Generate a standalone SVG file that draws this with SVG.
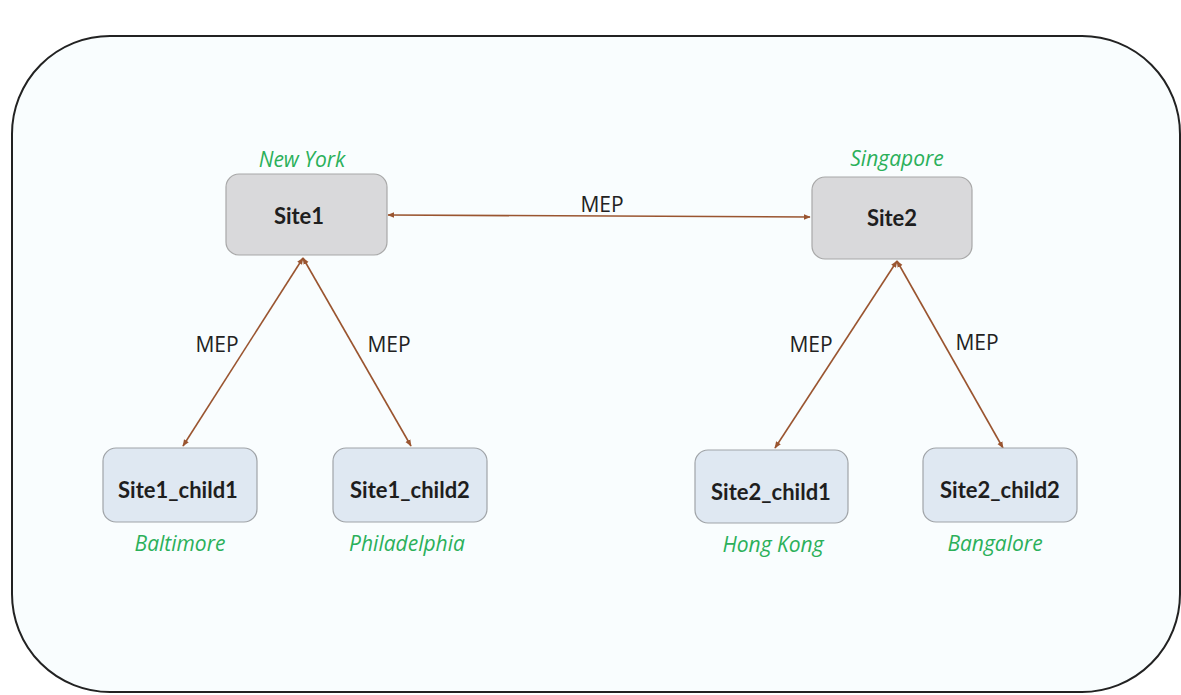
<svg xmlns="http://www.w3.org/2000/svg" width="1181" height="695" viewBox="0 0 1181 695">
<defs>
<marker id="ah" viewBox="0 0 10 10" refX="9" refY="5" markerWidth="7" markerHeight="7" orient="auto-start-reverse" markerUnits="userSpaceOnUse">
<path d="M0,1 L10,5 L0,9 Z" fill="#9a5530"/>
</marker>
<style>
.frame{fill:#f9fdfe;stroke:#222;stroke-width:2}
.site{fill:#d9d9db;stroke:#a8a8a8;stroke-width:1.2}
.child{fill:#dfe8f2;stroke:#a0a4a8;stroke-width:1.2}
.nt{font-family:Lato,"Open Sans",sans-serif;font-weight:bold;font-size:22px;fill:#1e1e1e;text-anchor:middle}
.loc{font-family:"Open Sans","Noto Sans",sans-serif;font-style:italic;font-size:21px;fill:#2bb05a;text-anchor:middle}
.lbl{font-family:"Open Sans","Noto Sans",sans-serif;font-size:21px;fill:#222;text-anchor:middle}
.cn{stroke:#9a5530;stroke-width:1.6;fill:none;marker-start:url(#ah);marker-end:url(#ah)}
</style>
</defs>
<rect x="0" y="0" width="1181" height="695" fill="#ffffff"/>
<rect class="frame" x="12" y="36" width="1168" height="656" rx="98" ry="98"/>
<g id="connectors">
<line class="cn" x1="388" y1="215" x2="810" y2="217"/>
<line class="cn" x1="303" y1="258" x2="183" y2="446"/>
<line class="cn" x1="303" y1="258" x2="411" y2="446"/>
<line class="cn" x1="897" y1="261" x2="775" y2="448"/>
<line class="cn" x1="897" y1="261" x2="1003" y2="448"/>
<text class="lbl" x="602" y="212">MEP</text>
<text class="lbl" x="217" y="352">MEP</text>
<text class="lbl" x="389" y="352">MEP</text>
<text class="lbl" x="811" y="352">MEP</text>
<text class="lbl" x="977" y="350">MEP</text>
</g>
<g id="site1">
<rect class="site" x="226" y="174" width="161" height="81" rx="13"/>
<text class="nt" x="299" y="224">Site1</text>
<text class="loc" x="302" y="167">New York</text>
</g>
<g id="site2">
<rect class="site" x="812" y="177" width="160" height="82" rx="13"/>
<text class="nt" x="892" y="226">Site2</text>
<text class="loc" x="897" y="166">Singapore</text>
</g>
<g id="site1_child1">
<rect class="child" x="103" y="448" width="154" height="74" rx="13"/>
<text class="nt" x="178" y="498">Site1_child1</text>
<text class="loc" x="180" y="551">Baltimore</text>
</g>
<g id="site1_child2">
<rect class="child" x="333" y="448" width="154" height="74" rx="13"/>
<text class="nt" x="410" y="498">Site1_child2</text>
<text class="loc" x="407" y="551">Philadelphia</text>
</g>
<g id="site2_child1">
<rect class="child" x="695" y="450" width="153" height="73" rx="13"/>
<text class="nt" x="771" y="500">Site2_child1</text>
<text class="loc" x="773" y="552">Hong Kong</text>
</g>
<g id="site2_child2">
<rect class="child" x="923" y="448" width="154" height="74" rx="13"/>
<text class="nt" x="1000" y="498">Site2_child2</text>
<text class="loc" x="995" y="551">Bangalore</text>
</g>
</svg>
